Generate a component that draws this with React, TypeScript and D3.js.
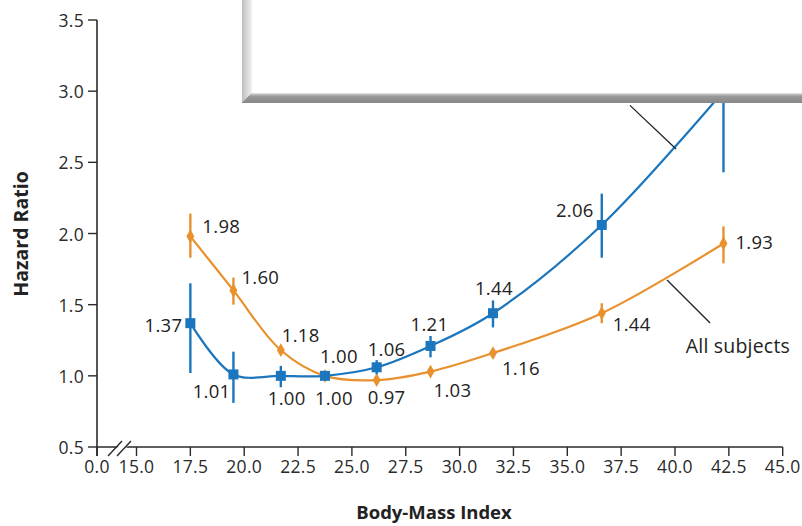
import React from "react";
import * as d3 from "d3";

const bmi = [17.5, 19.5, 21.7, 23.75, 26.15, 28.65, 31.55, 36.6, 42.25];
const blueHR = [1.37, 1.01, 1.0, 1.0, 1.06, 1.21, 1.44, 2.06, 3.0];
const blueLo = [1.02, 0.81, 0.92, 1.0, 1.01, 1.13, 1.34, 1.83, 2.43];
const blueHi = [1.65, 1.17, 1.07, 1.0, 1.11, 1.28, 1.53, 2.28, 3.7];
const orangeHR = [1.98, 1.6, 1.18, 1.0, 0.97, 1.03, 1.16, 1.44, 1.93];
const orangeLo = [1.83, 1.5, 1.16, 1.0, 0.96, 1.02, 1.14, 1.37, 1.79];
const orangeHi = [2.14, 1.69, 1.2, 1.0, 0.98, 1.04, 1.18, 1.51, 2.05];
const xTicks = [0, 15, 17.5, 20, 22.5, 25, 27.5, 30, 32.5, 35, 37.5, 40, 42.5, 45];
const yTicks = [0.5, 1.0, 1.5, 2.0, 2.5, 3.0, 3.5];
const xTitle = "Body-Mass Index";
const yTitle = "Hazard Ratio";
const annotText = "All subjects";

// label placement offsets (style only): [dx, dy, anchor]
const blueLabelPos: [number, number, string][] = [
  [-8, 1, "end"], [-3, 16, "end"], [-13, 22, "start"], [-10, 22, "start"],
  [-9, -19, "start"], [-20, -22, "start"], [-18, -26, "start"], [-8, -15, "end"], [0, 0, "none"],
];
const orangeLabelPos: [number, number, string][] = [
  [12, -11, "start"], [8, -14, "start"], [1, -16, "start"], [-5, -20, "start"],
  [-9, 16, "start"], [3, 18, "start"], [9, 14, "start"], [11, 10, "start"], [12, -2, "start"],
];

const BLUE = "#1b76bd";
const ORANGE = "#e8912d";
const AXIS = "#2a2a2a";
const FONT = "'Open Sans', 'Noto Sans', sans-serif";

export default function App() {
  const x = d3.scaleLinear().domain([0, 15, 45]).range([97, 136.5, 782.7]);
  const y = d3.scaleLinear().domain([0.5, 3.5]).range([447, 20]);
  const fmt = d3.format(".1f");
  const fmt2 = d3.format(".2f");
  const line = d3
    .line<number>()
    .x((_, i) => x(bmi[i]))
    .y((d) => y(d))
    .curve(d3.curveCatmullRom.alpha(0.5));
  const diamond = d3.symbol().type(d3.symbolDiamond).size(55)()!;

  const series = [
    { hr: orangeHR, lo: orangeLo, hi: orangeHi, color: ORANGE, pos: orangeLabelPos, key: "o" },
    { hr: blueHR, lo: blueLo, hi: blueHi, color: BLUE, pos: blueLabelPos, key: "b" },
  ];

  return (
    <svg
      width={802}
      height={526}
      style={{ position: "absolute", left: 0, top: 0, background: "#fff" }}
      fontFamily={FONT}
    >
      <defs>
        <linearGradient id="bevL" x1="0" x2="1" y1="0" y2="0">
          <stop offset="0" stopColor="#bdbdbd" />
          <stop offset="1" stopColor="#f2f2f2" />
        </linearGradient>
        <linearGradient id="bevB" x1="0" x2="0" y1="0" y2="1">
          <stop offset="0" stopColor="#e6e6e6" />
          <stop offset="0.3" stopColor="#9a9a9a" />
          <stop offset="1" stopColor="#878787" />
        </linearGradient>
      </defs>

      {/* series */}
      {series.map((s) => (
        <g key={s.key}>
          <path d={line(s.hr)!} fill="none" stroke={s.color} strokeWidth={2.2} />
          {s.hr.map((v, i) => (
            <line
              key={"e" + i}
              x1={x(bmi[i])}
              x2={x(bmi[i])}
              y1={y(s.lo[i])}
              y2={y(s.hi[i])}
              stroke={s.color}
              strokeWidth={2.4}
            />
          ))}
          {s.hr.map((v, i) =>
            s.key === "b" ? (
              <rect
                key={"m" + i}
                x={x(bmi[i]) - 5}
                y={y(v) - 5}
                width={10}
                height={10}
                fill={s.color}
              />
            ) : (
              <path
                key={"m" + i}
                d={diamond}
                transform={`translate(${x(bmi[i])},${y(v)})`}
                fill={s.color}
              />
            )
          )}
          {s.hr.map((v, i) =>
            s.pos[i][2] === "none" ? null : (
              <text
                key={"t" + i}
                x={x(bmi[i]) + s.pos[i][0]}
                y={y(v) + s.pos[i][1]}
                textAnchor={s.pos[i][2] as any}
                dominantBaseline="central"
                fontSize={18.5}
                letterSpacing={0.3}
                fill="#222"
              >
                {fmt2(v)}
              </text>
            )
          )}
        </g>
      ))}

      {/* annotation leaders */}
      <line x1={x(40.05)} y1={y(2.594)} x2={x(37.91)} y2={y(2.9)} stroke="#222" strokeWidth={1.3} />
      <line x1={x(39.63)} y1={y(1.673)} x2={x(41.63)} y2={y(1.371)} stroke="#222" strokeWidth={1.3} />
      <text
        x={x(40.5)}
        y={y(1.21)}
        dominantBaseline="central"
        fontSize={19.5}
        letterSpacing={0.2}
        fill="#222"
      >
        {annotText}
      </text>

      {/* legend box (blank, bevelled) */}
      <g>
        <rect x={242} y={-5} width={570} height={108} fill="#8a8a8a" />
        <polygon points="242,-5 252,-5 252,93 242,103" fill="url(#bevL)" />
        <polygon points="242,103 252,93 810,93 810,103" fill="url(#bevB)" />
        <rect x={252} y={-5} width={560} height={98} fill="#fff" />
      </g>

      {/* y axis */}
      <line x1={97} x2={97} y1={y(3.5)} y2={456} stroke={AXIS} strokeWidth={1.6} />
      {yTicks.map((t) => (
        <g key={"y" + t}>
          <line x1={88} x2={97} y1={y(t)} y2={y(t)} stroke={AXIS} strokeWidth={1.4} />
          <text
            x={84}
            y={y(t)}
            textAnchor="end"
            dominantBaseline="central"
            fontSize={17.5}
            letterSpacing={0.3}
            fill="#2a2a2a"
          >
            {fmt(t)}
          </text>
        </g>
      ))}
      {/* x axis */}
      <line x1={97} x2={x(45)} y1={447} y2={447} stroke={AXIS} strokeWidth={1.6} />
      {xTicks.map((t) => (
        <g key={"x" + t}>
          <line x1={x(t)} x2={x(t)} y1={447} y2={456} stroke={AXIS} strokeWidth={1.4} />
          <text
            x={x(t)}
            y={466}
            textAnchor="middle"
            dominantBaseline="central"
            fontSize={17.5}
            letterSpacing={0.3}
            fill="#2a2a2a"
          >
            {fmt(t)}
          </text>
        </g>
      ))}
      {/* axis break */}
      <polygon points="110,456 119,456 132,441 123,441" fill="#fff" />
      <line x1={108} y1={456} x2={122} y2={441} stroke={AXIS} strokeWidth={1.4} />
      <line x1={117} y1={456} x2={131} y2={441} stroke={AXIS} strokeWidth={1.4} />

      {/* titles */}
      <text
        x={434}
        y={511}
        textAnchor="middle"
        dominantBaseline="central"
        fontSize={18.5}
        fontWeight="bold"
        fill="#222"
      >
        {xTitle}
      </text>
      <text
        transform="translate(20,234) rotate(-90)"
        textAnchor="middle"
        dominantBaseline="central"
        fontSize={19.5}
        fontWeight="bold"
        fill="#222"
      >
        {yTitle}
      </text>
    </svg>
  );
}
